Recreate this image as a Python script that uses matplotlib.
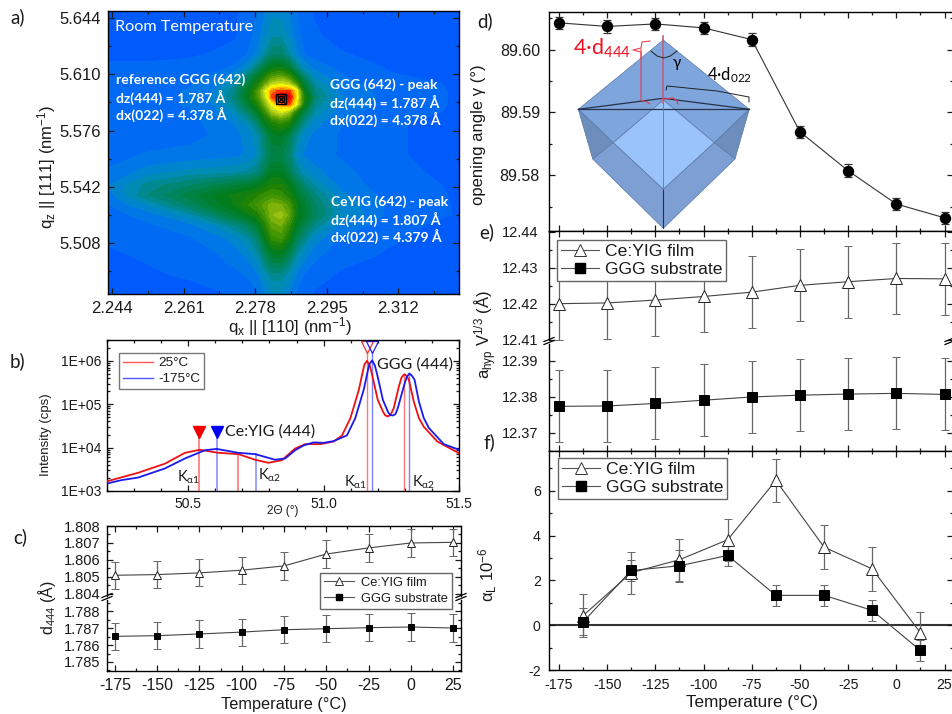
import numpy as np
import matplotlib
matplotlib.use('Agg')
import matplotlib.pyplot as plt
from matplotlib.colors import LinearSegmentedColormap
from matplotlib.lines import Line2D
from matplotlib.patches import Polygon
from matplotlib.ticker import FixedLocator, FormatStrFormatter, LogLocator, NullFormatter, MultipleLocator
from matplotlib.transforms import Affine2D

plt.rcParams['font.family'] = ['Liberation Sans', 'DejaVu Sans']
plt.rcParams['mathtext.default'] = 'regular'
plt.rcParams['axes.linewidth'] = 1.0
plt.rcParams['axes.unicode_minus'] = False

W, H = 952, 714

# panel a, reciprocal space map (estimated colour level per grid node)
qx_grid = [2.24305, 2.25302, 2.26252, 2.26846, 2.27320, 2.27629, 2.27866, 2.28033, 2.28199,
           2.28413, 2.28603, 2.28769, 2.28959, 2.29220, 2.29813, 2.31001, 2.32639]
qz_grid = [5.64823, 5.63373, 5.62166, 5.61380, 5.60897, 5.60414, 5.59991, 5.59629, 5.59206,
           5.58723, 5.58119, 5.57334, 5.56127, 5.55100, 5.54315, 5.53711, 5.53107, 5.52503,
           5.51899, 5.51114, 5.50087, 5.48879, 5.47732]
rsm_levels = [
    [0, 0, 0, 0, .2, .4, .8, 1.2, 1.6, 1.6, 1.2, .8, .4, .2, 0, 0, 0],
    [0, 0, 0, .1, .2, .5, 1, 1.6, 2.1, 2.1, 1.6, 1, .5, .3, .1, 0, 0],
    [.2, .2, .2, .3, .4, .8, 1.4, 2.3, 3.2, 3.2, 2.3, 1.4, .8, .5, .3, .1, 0],
    [.3, .3, .4, .5, .9, 1.8, 3, 4.3, 5.2, 5.4, 4.5, 3, 1.8, 1.1, .6, .2, .1],
    [.3, .4, .5, .9, 1.6, 3, 4.6, 5.8, 7, 7.5, 6.5, 4.8, 3, 1.6, .8, .3, .1],
    [.4, .5, .7, 1.1, 2.2, 4, 5.8, 7.5, 9, 9.5, 9, 7, 4.2, 2.2, 1, .4, .2],
    [.5, .6, .8, 1.3, 2.7, 4.8, 7, 9.5, 11.5, 12, 12, 10.5, 5.2, 2.7, 1.2, .5, .2],
    [.5, .6, .8, 1.4, 2.9, 5, 7, 9, 12, 13, 13, 10.5, 6, 3, 1.3, .5, .2],
    [.5, .6, .8, 1.3, 2.5, 4.3, 6, 8, 10, 11.5, 12, 10, 5.6, 2.6, 1.2, .5, .2],
    [.4, .5, .7, 1.1, 1.9, 3.2, 4.8, 6.5, 8.5, 9.5, 8.5, 6, 3.8, 2.1, 1, .4, .2],
    [.4, .5, .6, .9, 1.3, 2, 3.3, 5, 6, 6.5, 6, 4.3, 2.6, 1.5, .8, .3, .1],
    [.4, .5, .6, .8, 1.1, 1.4, 2.1, 3.2, 4.6, 4.8, 3.8, 2.5, 1.5, 1.1, .7, .3, .1],
    [.6, .8, .9, 1, 1.1, 1.3, 1.8, 3, 3.8, 3.8, 3.1, 1.8, 1.2, 1, .7, .3, .1],
    [.8, 1.5, 1.9, 2, 2.1, 2.3, 2.8, 3.8, 4.8, 4.8, 3.8, 2.6, 1.9, 1.4, .9, .4, .1],
    [1.2, 2.5, 3.2, 3.7, 4.1, 4.4, 4.8, 5.4, 5.8, 5.8, 5, 4, 3, 2.1, 1.1, .4, .2],
    [1, 2.8, 4, 4.8, 5.4, 5.7, 6.1, 6.5, 6.8, 6.5, 5.8, 4.8, 3.8, 2.8, 1.4, .5, .2],
    [.7, 1.8, 3.3, 4.5, 5.3, 6.2, 6.9, 7.5, 8, 7.8, 7, 5.5, 4.4, 3.3, 1.7, .6, .2],
    [.5, 1, 2, 3.2, 4.3, 5.1, 5.9, 7, 8.2, 8.5, 7.5, 5.5, 4.5, 3.4, 1.8, .6, .2],
    [.4, .7, 1.1, 1.8, 2.7, 3.5, 4.5, 6, 7.5, 7.8, 6.5, 4.8, 3.8, 2.6, 1.2, .4, .1],
    [.3, .5, .7, 1, 1.5, 2.2, 3.2, 5, 6.5, 6.8, 5.5, 3.8, 2.6, 1.5, .7, .3, .1],
    [.2, .3, .5, .7, 1, 1.4, 2.1, 3.4, 4.5, 4.6, 3.6, 2.3, 1.5, .9, .4, .2, 0],
    [.1, .2, .3, .4, .6, .8, 1.2, 1.9, 2.5, 2.5, 1.9, 1.2, .7, .4, .2, .1, 0],
    [0, 0, .1, .2, .3, .4, .7, 1.2, 1.7, 1.7, 1.2, .7, .4, .2, .1, 0, 0],
]
rsm_colors = ['#0055ff', '#0073f0', '#008cbe', '#008778', '#008246', '#007d1e', '#1e8205',
              '#469605', '#82b40a', '#bed71e', '#ffff00', '#ffaa00', '#ff1e00', '#d2000a']
peak_qx, peak_qz = 2.28413, 5.5951

# panel b, theta-2theta scans
tth_red = [50.198, 50.315, 50.414, 50.488, 50.543, 50.611, 50.685, 50.747, 50.796, 50.846, 50.895,
           50.932, 50.988, 51.037, 51.068, 51.099, 51.130, 51.146, 51.151, 51.160, 51.170, 51.179,
           51.200, 51.220, 51.228, 51.238, 51.248, 51.259, 51.278, 51.288, 51.298, 51.307, 51.315,
           51.333, 51.352, 51.370, 51.420, 51.500]
logi_red = [3.22, 3.42, 3.63, 3.88, 3.95, 3.88, 3.85, 3.72, 3.65, 3.71, 3.98,
            4.08, 4.08, 4.14, 4.28, 4.68, 5.33, 5.79, 5.92, 6.00, 5.90, 5.68,
            5.10, 4.82, 4.74, 4.72, 4.76, 4.91, 5.41, 5.62, 5.69, 5.65, 5.56,
            5.06, 4.68, 4.48, 4.14, 3.87]
tth_blue = [50.198, 50.253, 50.315, 50.414, 50.488, 50.562, 50.605, 50.685, 50.747, 50.821, 50.858,
            50.895, 50.926, 50.963, 51.000, 51.037, 51.086, 51.117, 51.148, 51.164, 51.169, 51.179,
            51.189, 51.198, 51.219, 51.238, 51.246, 51.256, 51.265, 51.274, 51.296, 51.307, 51.317,
            51.327, 51.336, 51.352, 51.370, 51.389, 51.444, 51.500]
logi_blue = [3.17, 3.25, 3.31, 3.52, 3.75, 3.94, 3.97, 3.88, 3.85, 3.72, 3.75,
             3.94, 4.05, 4.12, 4.11, 4.15, 4.28, 4.68, 5.33, 5.79, 5.92, 6.01,
             5.90, 5.68, 5.10, 4.82, 4.75, 4.74, 4.77, 4.91, 5.41, 5.63, 5.71,
             5.65, 5.56, 5.06, 4.68, 4.45, 4.08, 3.95]
film_peaks_red = [50.540, 50.685]
film_peaks_blue = [50.605, 50.751]
sub_peaks_red = [51.160, 51.296]
sub_peaks_blue = [51.179, 51.315]

# temperature series
temps = [-175, -150, -125, -100, -75, -50, -25, 0, 25]
temps_mid = [-162.5, -137.5, -112.5, -87.5, -62.5, -37.5, -12.5, 12.5]

d444_film = [1.80510, 1.80514, 1.80524, 1.80540, 1.80565, 1.80635, 1.80671, 1.80700, 1.80704]
d444_sub = [1.78651, 1.78655, 1.78665, 1.78676, 1.78690, 1.78696, 1.78702, 1.78706, 1.78700]
d444_err = 0.0008

gamma = [89.60427, 89.60370, 89.60410, 89.60347, 89.60160, 89.58690, 89.58070, 89.57540, 89.57320]
gamma_err = 0.001

a_film = [12.4200, 12.4202, 12.4210, 12.4220, 12.4232, 12.4251, 12.4261, 12.4270, 12.4269]
a_sub = [12.3774, 12.3775, 12.3782, 12.3791, 12.3800, 12.3805, 12.3808, 12.3810, 12.3807]
a_err = 0.01

alpha_film = [0.43, 2.34, 2.92, 3.81, 6.46, 3.48, 2.51, -0.34]
alpha_film_err = [0.97, 0.94, 0.94, 0.94, 0.96, 0.97, 0.97, 0.94]
alpha_sub = [0.15, 2.44, 2.65, 3.11, 1.33, 1.33, 0.66, -1.13]
alpha_sub_err = [0.60, 0.48, 0.71, 0.47, 0.47, 0.47, 0.47, 0.47]

fig = plt.figure(figsize=(W / 100, H / 100), dpi=100)
pix = Affine2D().scale(1, -1).translate(0, H)


def add_ax(left, top, right, bottom):
    return fig.add_axes([left / W, 1 - bottom / H, (right - left) / W, (bottom - top) / H])


def px_text(x, y, s, **kw):
    kw.setdefault('va', 'center')
    kw.setdefault('color', '#1a1a1a')
    return fig.text(x, y, s, transform=pix, **kw)


def px_line(xs, ys, **kw):
    kw.setdefault('color', '#222222')
    kw.setdefault('lw', 0.8)
    kw.setdefault('zorder', 3)
    fig.add_artist(Line2D(xs, ys, transform=pix, **kw))


def style_ticks(ax, size=10.5, pad=4):
    ax.tick_params(which='both', direction='in', top=True, right=True, width=0.9, colors='#1a1a1a')
    ax.tick_params(which='major', length=4.5, labelsize=size, pad=pad)
    ax.tick_params(which='minor', length=2.5)


def temp_axis(ax, labels):
    ax.set_xticks(temps)
    ax.xaxis.set_minor_locator(MultipleLocator(12.5))
    if not labels:
        ax.set_xticklabels([])


def break_mark(x, y):
    for dy in (-1.5, 1.5):
        px_line([x - 5, x + 5], [y + dy + 2, y + dy - 2], color='black', lw=0.9, zorder=4)


def series_handles(ms_tri, ms_sq):
    return [Line2D([], [], color='#555555', lw=0.8, marker='^', ms=ms_tri, mfc='white', mec='#333333', mew=0.7),
            Line2D([], [], color='#555555', lw=0.8, marker='s', ms=ms_sq, mfc='black', mec='black')]


def series_legend(anchor, font, ms_tri, ms_sq, **kw):
    fig.legend(series_handles(ms_tri, ms_sq), ['Ce:YIG film', 'GGG substrate'], loc='upper left',
               bbox_to_anchor=anchor, bbox_transform=pix, borderaxespad=0, fontsize=font, fancybox=False,
               framealpha=1, edgecolor='#666666', labelcolor='#1a1a1a', **kw)


def plot_series(ax, x, y, err, marker, ms, fc):
    ax.errorbar(x, y, yerr=err, color='#444444', lw=0.8, elinewidth=0.9, ecolor='#666666', capsize=3,
                capthick=0.8, marker=marker, ms=ms, mfc=fc, mec='#222222' if fc == 'white' else 'black', mew=0.7)


# a) reciprocal space map
ax_a = add_ax(108, 11, 459, 294)
cmap = LinearSegmentedColormap.from_list('rsm', rsm_colors)
ax_a.contourf(qx_grid, qz_grid, rsm_levels, levels=np.arange(-0.25, 13.75, 0.5), cmap=cmap, extend='both')
ax_a.plot(peak_qx, peak_qz, 's', ms=6.5, mfc='none', mec='black', mew=1)
ax_a.plot(peak_qx, peak_qz, 'o', ms=4.5, mfc='none', mec='black', mew=0.8)
ax_a.plot(peak_qx, peak_qz, 'x', ms=5.5, mec='black', mew=0.9)
ax_a.set_xlim(2.24305, 2.32639)
ax_a.set_ylim(5.47732, 5.64823)
ax_a.set_xticks([2.244, 2.261, 2.278, 2.295, 2.312])
ax_a.xaxis.set_minor_locator(FixedLocator([2.2525, 2.2695, 2.2865, 2.3035, 2.3205]))
ax_a.set_yticks([5.508, 5.542, 5.576, 5.610, 5.644])
ax_a.yaxis.set_minor_locator(FixedLocator([5.491, 5.525, 5.559, 5.593, 5.627]))
style_ticks(ax_a, size=12, pad=5)
px_text(115, 27, 'Room Temperature', color='white', family='Lato', fontsize=11.7)
note_font = dict(color='white', family='Lato', fontweight='bold', fontsize=10)
for y, s in zip([80, 97, 114], ['reference GGG (642)', 'dz(444) = 1.787 Å', 'dx(022) = 4.378 Å']):
    px_text(115.5, y, s, **note_font)
for y, s in zip([85, 102, 119], ['GGG (642) - peak', 'dz(444) = 1.787 Å', 'dx(022) = 4.378 Å']):
    px_text(330, y, s, **note_font)
for y, s in zip([202, 219, 236], ['CeYIG (642) - peak', 'dz(444) = 1.807 Å', 'dx(022) = 4.379 Å']):
    px_text(331, y, s, **note_font)
px_text(47, 167, 'q$_z$ || [111] (nm$^{-1}$)', rotation=90, ha='center', fontsize=12)
px_text(290, 327, 'q$_x$ || [110] (nm$^{-1}$)', ha='center', fontsize=12)

# b) scans
ax_b = add_ax(107, 340, 459, 491)
ax_b.semilogy(tth_red, 10 ** np.array(logi_red), color='#ee1111', lw=1.3, zorder=3)
ax_b.semilogy(tth_blue, 10 ** np.array(logi_blue), color='#1a1aee', lw=1.3, zorder=3)
for x in film_peaks_red:
    ax_b.plot([x, x], [1e3, 10 ** 3.87 if x > 50.6 else 10 ** 4.3], color='#ff7777', lw=1.2)
for x in film_peaks_blue:
    ax_b.plot([x, x], [1e3, 10 ** 3.85 if x > 50.7 else 10 ** 4.3], color='#9aa0ff', lw=1.4)
for x in sub_peaks_red:
    ax_b.plot([x, x], [1e3, 10 ** 6.2 if x < 51.2 else 10 ** 5.7], color='#ff7777', lw=1.0)
for x in sub_peaks_blue:
    ax_b.plot([x, x], [1e3, 10 ** 6.2 if x < 51.2 else 10 ** 5.7], color='#7a80ff', lw=1.0)
ax_b.plot(film_peaks_red[0], 10 ** 4.36, 'v', ms=9, color='#ee0000', clip_on=False)
ax_b.plot(film_peaks_blue[0], 10 ** 4.36, 'v', ms=9, color='#0000ee', clip_on=False)
ax_b.plot(sub_peaks_red[0], 10 ** 6.32, 'v', ms=8.5, mfc='none', mec='#ee3333', mew=0.9, clip_on=False)
ax_b.plot(sub_peaks_blue[0], 10 ** 6.32, 'v', ms=8.5, mfc='none', mec='#2222ee', mew=0.9, clip_on=False)
ax_b.set_xlim(50.2, 51.5)
ax_b.set_ylim(1e3, 10 ** 6.48)
ax_b.set_xticks([50.5, 51.0, 51.5])
ax_b.xaxis.set_major_formatter(FormatStrFormatter('%.1f'))
ax_b.xaxis.set_minor_locator(MultipleLocator(0.1))
ax_b.set_yticks([1e3, 1e4, 1e5, 1e6])
ax_b.set_yticklabels(['1E+03', '1E+04', '1E+05', '1E+06'])
ax_b.yaxis.set_minor_locator(LogLocator(base=10, subs=np.arange(2, 10), numticks=10))
ax_b.yaxis.set_minor_formatter(NullFormatter())
style_ticks(ax_b, size=10, pad=4)
ax_b.tick_params(axis='y', which='minor', length=2)
fig.legend([Line2D([], [], color='#ff5555', lw=1), Line2D([], [], color='#5555ff', lw=1)], ['25°C', '-175°C'],
           loc='upper left', bbox_to_anchor=(119, 353), bbox_transform=pix, borderaxespad=0, fontsize=9.7,
           fancybox=False, framealpha=1, edgecolor='#777777', handlelength=2.2, handletextpad=0.4,
           labelspacing=0.25, borderpad=0.3, labelcolor='#1a1a1a')
px_text(225, 432, 'Ce:YIG (444)', family='Lato', fontsize=11.5)
px_text(377, 365, 'GGG (444)', family='Lato', fontsize=11.5)
for x, y, s in [(177, 477, 'K$_{α1}$'), (258, 475, 'K$_{α2}$'), (344, 482, 'K$_{α1}$'), (412, 482, 'K$_{α2}$')]:
    px_text(x, y, s, family='Lato', fontsize=10.5)
px_text(46, 435, 'Intensity (cps)', rotation=90, ha='center', fontsize=9.5)
px_text(283, 511, '2Θ (°)', ha='center', fontsize=8.5)

# c) d444 with broken axis
ax_c1 = add_ax(107, 526, 461, 596)
ax_c2 = add_ax(107, 600, 461, 671)
for ax in (ax_c1, ax_c2):
    temp_axis(ax, ax is ax_c2)
    ax.set_xlim(-179.7, 29.7)
    style_ticks(ax, size=10.5, pad=5)
    ax.yaxis.set_major_formatter(FormatStrFormatter('%.3f'))
    ax.yaxis.set_minor_locator(MultipleLocator(0.0005))
ax_c2.tick_params(axis='x', labelsize=11.5)
plot_series(ax_c1, temps, d444_film, d444_err, '^', 5.8, 'white')
plot_series(ax_c2, temps, d444_sub, d444_err, 's', 4.5, 'black')
ax_c1.set_ylim(1.80388, 1.808)
ax_c1.set_yticks([1.804, 1.805, 1.806, 1.807, 1.808])
ax_c2.set_ylim(1.78447, 1.78865)
ax_c2.set_yticks([1.785, 1.786, 1.787, 1.788])
ax_c1.spines['bottom'].set_visible(False)
ax_c1.tick_params(which='both', bottom=False)
ax_c2.spines['top'].set_visible(False)
ax_c2.tick_params(which='both', top=False)
break_mark(107, 597)
break_mark(461, 597)
series_legend((320, 573), 9.3, 5.8, 4.5, handlelength=2.3, labelspacing=0.3, borderpad=0.3, handletextpad=0.6)
px_text(47, 608, 'd$_{444}$ (Å)', rotation=90, ha='center', fontsize=11.5)
px_text(284, 704, 'Temperature (°C)', ha='center', fontsize=11.7)

# d) opening angle
ax_d = add_ax(549, 12, 953, 231)
temp_axis(ax_d, False)
ax_d.errorbar(temps, gamma, yerr=gamma_err, color='#333333', lw=0.8, ecolor='#333333', capsize=3, capthick=0.9,
              marker='o', ms=7.2, mfc='black', mec='black')
ax_d.set_xlim(-180.2, 29.4)
ax_d.set_ylim(89.5711, 89.606)
ax_d.set_yticks([89.58, 89.59, 89.60])
ax_d.yaxis.set_major_formatter(FormatStrFormatter('%.2f'))
ax_d.yaxis.set_minor_locator(MultipleLocator(0.005))
style_ticks(ax_d, size=11.5, pad=6.5)
px_text(478, 135, 'opening angle γ (°)', rotation=90, ha='center', fontsize=12)

# crystal sketch in d, pixel positions of the drawing
apex, c_left, c_right, back = (663.3, 40), (578.3, 109.3), (749.3, 109.3), (663.3, 98.3)
tip, inner, low_l, low_r = (663.3, 228.3), (663.3, 189.3), (592.7, 159), (735, 159)
in_l, in_r, top_c = (613.3, 142.7), (714.3, 142.7), (663.3, 100)
faces = [([apex, c_left, in_l, top_c, in_r, c_right], '#7ea5dc'),
         ([top_c, in_r, inner, in_l], '#9ac3fa'),
         ([c_left, in_l, low_l], '#6d8dbc'),
         ([c_right, in_r, low_r], '#6d8dbc'),
         ([low_l, in_l, inner, tip], '#7d9fd3'),
         ([low_r, in_r, inner, tip], '#7d9fd3')]
for pts, col in faces:
    fig.add_artist(Polygon(pts, closed=True, transform=pix, fc=col, ec='#5a78a8', lw=0.5, zorder=2))
px_line([c_left[0], back[0], c_right[0]], [c_left[1], back[1], c_right[1]], color='#27324a', lw=0.9)
px_line([c_left[0], c_right[0]], [c_left[1], c_right[1]], color='#27324a', lw=0.9)
px_line([inner[0], tip[0]], [inner[1], tip[1]], color='#27324a', lw=0.8)
px_line([apex[0], apex[0]], [36, 103], color='#c06080', lw=1.2)
px_line([apex[0], apex[0]], [103, 189], color='#5a78a8', lw=0.6)
px_line([641, 641, 647, 650], [49, 100, 102, 104], color='#e04050', lw=0.8)
px_line([650, 642, 641, 633, 641, 641], [41, 42, 48, 50, 52, 58], color='#ee4050', lw=0.8)
px_line([651, 657, 664, 670.3, 677], [51, 56, 58, 56, 51], color='#222222', lw=0.7)
px_line([666, 667, 717, 749, 749], [90, 86, 91, 97, 102], color='#222222', lw=0.7)
px_line([663.3, 673, 677, 678], [99, 98, 101, 104], color='#ee3040', lw=0.8)
px_text(677, 63, 'γ', family='Lato', fontsize=11, ha='center', color='black', zorder=4)
px_text(707, 75, '4·d$_{022}$', family='Lato', fontsize=12, color='black', zorder=4)
px_text(573, 48, '4·d$_{444}$', family='Lato', fontsize=15.5, color='#ee1122', zorder=4)

# e) lattice parameter with broken axis
ax_e1 = add_ax(549, 231, 953, 340)
ax_e2 = add_ax(549, 344, 953, 451)
for ax in (ax_e1, ax_e2):
    temp_axis(ax, False)
    ax.set_xlim(-180.2, 29.4)
    style_ticks(ax, size=10.5, pad=7.5)
    ax.yaxis.set_major_formatter(FormatStrFormatter('%.2f'))
    ax.yaxis.set_minor_locator(MultipleLocator(0.005))
plot_series(ax_e1, temps, a_film, a_err, '^', 8, 'white')
plot_series(ax_e2, temps, a_sub, a_err, 's', 6.5, 'black')
ax_e1.set_ylim(12.4099, 12.4402)
ax_e1.set_yticks([12.41, 12.42, 12.43, 12.44])
ax_e2.set_ylim(12.365, 12.3947)
ax_e2.set_yticks([12.37, 12.38, 12.39])
ax_e1.spines['bottom'].set_visible(False)
ax_e1.tick_params(which='both', bottom=False)
ax_e2.spines['top'].set_visible(False)
ax_e2.tick_params(which='both', top=False)
break_mark(549, 341)
break_mark(950, 341)
series_legend((557, 240), 12.6, 8, 6.5, handlelength=2.2, labelspacing=0.2, borderpad=0.2, handletextpad=0.35)
px_text(486, 335, 'a$_{hyp}$ V$^{1/3}$ (Å)', rotation=90, ha='center', fontsize=12)

# f) expansion coefficient
ax_f = add_ax(549, 451, 953, 670)
temp_axis(ax_f, True)
ax_f.axhline(0, color='#333333', lw=1.5, zorder=1)
plot_series(ax_f, temps_mid, alpha_film, alpha_film_err, '^', 8, 'white')
plot_series(ax_f, temps_mid, alpha_sub, alpha_sub_err, 's', 6.5, 'black')
ax_f.set_xlim(-180.2, 29.4)
ax_f.set_ylim(-2, 7.77)
ax_f.set_yticks([-2, 0, 2, 4, 6])
ax_f.yaxis.set_minor_locator(MultipleLocator(1))
style_ticks(ax_f, size=10.2, pad=6)
series_legend((558, 458), 12.6, 8, 6.5, handlelength=2.2, labelspacing=0.2, borderpad=0.2, handletextpad=0.35)
px_text(488, 575, 'α$_L$ 10$^{-6}$', rotation=90, ha='center', fontsize=12)
px_text(752, 702, 'Temperature (°C)', ha='center', fontsize=12.3)

for x, y, s in [(10, 17, 'a)'), (10, 361, 'b)'), (13, 537, 'c)'), (477, 21, 'd)'), (479, 232, 'e)'), (483, 442, 'f)')]:
    px_text(x, y, s, family='Lato', fontsize=13.5)

fig.savefig('out.png', dpi=100)
